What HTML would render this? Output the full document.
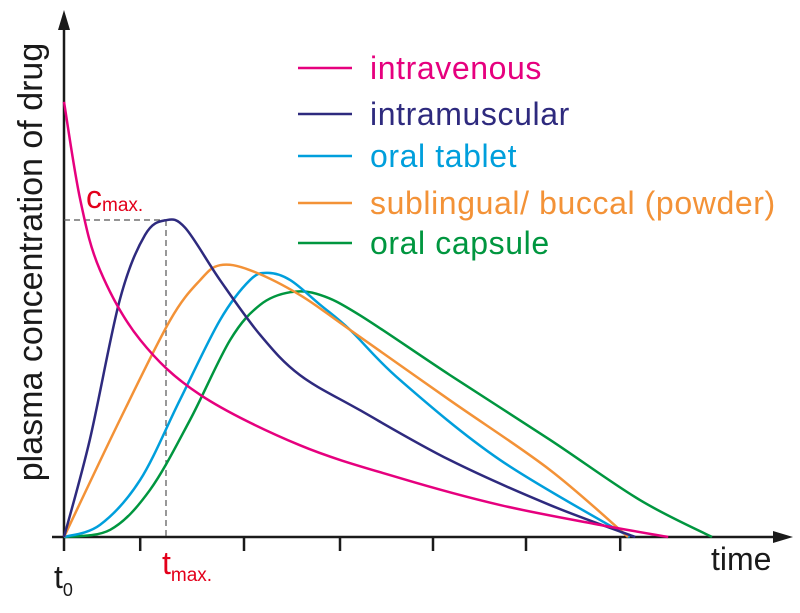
<!DOCTYPE html>
<html><head><meta charset="utf-8"><style>
html,body{margin:0;padding:0;background:#fff;}
svg{display:block;font-family:"Liberation Sans",Arial,sans-serif;}
</style></head><body>
<svg id="chart" width="800" height="613" viewBox="0 0 800 613">
<g id="axes">
<line x1="64" y1="537" x2="64" y2="22" stroke="#1a1a1a" stroke-width="2.5"/>
<polygon points="64,10 58,30 70,30" fill="#1a1a1a"/>
<line x1="52" y1="537" x2="780" y2="537" stroke="#1a1a1a" stroke-width="2.5"/>
<polygon points="793,537 773,531 773,543" fill="#1a1a1a"/>
</g>
<g id="ticks"></g>
<line x1="64" y1="220" x2="166" y2="220" stroke="#555" stroke-width="1.2" stroke-dasharray="6,4"/>
<line x1="166" y1="220" x2="166" y2="537" stroke="#555" stroke-width="1.2" stroke-dasharray="6,4"/>
<g id="series"></g>
<text transform="translate(42,262) rotate(-90)" text-anchor="middle" font-size="34" fill="#1a1a1a">plasma concentration of drug</text>
<text x="711" y="570" font-size="32" fill="#1a1a1a">time</text>
<text x="54" y="588" font-size="32" fill="#1a1a1a">t<tspan font-size="18" dy="8">0</tspan></text>
<text x="86" y="208" font-size="32" fill="#e3001b">c<tspan font-size="19" dy="3">max.</tspan></text>
<text x="162" y="574" font-size="32" fill="#e3001b">t<tspan font-size="19" dy="7">max.</tspan></text>
<g id="legend"></g>
</svg>
<script>
const seriesNames = ["intravenous","intramuscular","oral tablet","sublingual/ buccal (powder)","oral capsule"];
const seriesColors = ["#e6007e","#2e2a7e","#009fdc","#f39237","#00963f"];
const ivT = [0,2.7,6,12.7,22.7,39.3,56,72.7,89.3,100.7];
const ivC = [96.7,75,59.3,43.8,31.6,20.4,13.1,7.1,2.7,0];
const imT = [0,4.3,9.3,13.5,17,20.2,26,32.7,39.3,49.3,64.3,81,95.2];
const imC = [0,21.6,52.7,67.1,70.4,68.7,57.1,44.9,36,28.2,17.1,7.1,0];
const tabT = [0,6,12.7,19.3,26,31,34,37.7,42.7,47.7,56,72.7,94.3];
const tabC = [0,2.7,12.7,30.4,48.2,57.1,58.7,57.1,51.6,46,34.9,17.1,0];
const subT = [0,9.3,17.7,22.7,26,31,39.3,47.7,64.3,81,94];
const subC = [0,26,48.2,57.1,60.4,59.3,53.8,46,30.4,14.9,0];
const capT = [0,7.7,14.3,21,27.7,32.7,37.7,42.7,49.3,64.3,81,96,108];
const capC = [0,1.6,10.4,26,43.8,51.6,54.4,53.8,49.3,36,21.6,8.2,0];
const tickT = [0,12.7,30,46,61.5,77,92.7];

function xScale(t){return 64 + t*6;}
function yScale(c){return 537 - c*4.5;}
const NS="http://www.w3.org/2000/svg";

const tg=document.getElementById('ticks');
tickT.forEach(function(t){
  const l=document.createElementNS(NS,'line');
  
  
  l.setAttribute('x1',xScale(t));l.setAttribute('x2',xScale(t));
  l.setAttribute('y1',537);l.setAttribute('y2',551);
  l.setAttribute('stroke','#1a1a1a');l.setAttribute('stroke-width','2.5');
  tg.appendChild(l);
});

function smoothPath(T,C){
  const p=T.map(function(t,i){return [xScale(t),yScale(C[i])];});
  let d='M'+p[0][0]+','+p[0][1];
  for(let i=0;i<p.length-1;i++){
    const p0=p[i-1]||p[i],p1=p[i],p2=p[i+1],p3=p[i+2]||p2;
    const c1x=p1[0]+(p2[0]-p0[0])/6,c1y=p1[1]+(p2[1]-p0[1])/6;
    const c2x=p2[0]-(p3[0]-p1[0])/6,c2y=p2[1]-(p3[1]-p1[1])/6;
    d+=' C'+c1x+','+c1y+' '+c2x+','+c2y+' '+p2[0]+','+p2[1];
  }
  return d;
}
const allT=[ivT,imT,tabT,subT,capT], allC=[ivC,imC,tabC,subC,capC];
const slugs=["intravenous","intramuscular","oral-tablet","sublingual-buccal","oral-capsule"];
const sg=document.getElementById('series');
const drawOrder=[4,2,3,1,0];
drawOrder.forEach(function(i){
  const path=document.createElementNS(NS,'path');
  
  
  path.setAttribute('d',smoothPath(allT[i],allC[i]));
  path.setAttribute('fill','none');
  path.setAttribute('stroke',seriesColors[i]);
  path.setAttribute('stroke-width','2.5');
  sg.appendChild(path);
});

const lg=document.getElementById('legend');
const legY=[68,114,156,203,243];
seriesNames.forEach(function(n,i){
  const l=document.createElementNS(NS,'line');
  
  
  l.setAttribute('x1',298);l.setAttribute('x2',352);
  l.setAttribute('y1',legY[i]);l.setAttribute('y2',legY[i]);
  l.setAttribute('stroke',seriesColors[i]);l.setAttribute('stroke-width','2.5');
  lg.appendChild(l);
  const tx=document.createElementNS(NS,'text');
  
  
  tx.setAttribute('x',370);tx.setAttribute('y',legY[i]+11);
  tx.setAttribute('font-size','32');tx.setAttribute('letter-spacing','0.6');
  tx.setAttribute('fill',seriesColors[i]);
  tx.textContent=n;
  lg.appendChild(tx);
});
</script>
</body></html>
